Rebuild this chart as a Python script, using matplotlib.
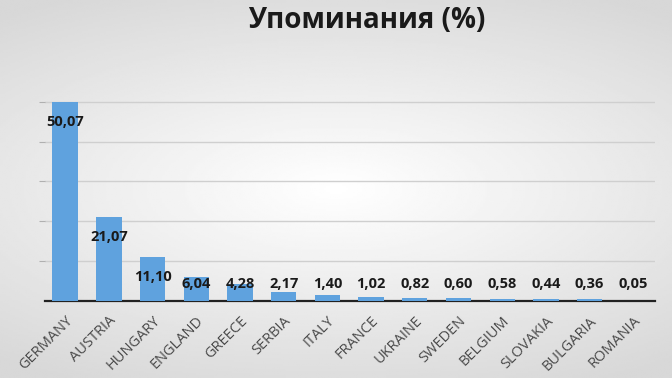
import numpy as np
import matplotlib.pyplot as plt

# data
countries = ["GERMANY", "AUSTRIA", "HUNGARY", "ENGLAND", "GREECE", "SERBIA", "ITALY",
             "FRANCE", "UKRAINE", "SWEDEN", "BELGIUM", "SLOVAKIA", "BULGARIA", "ROMANIA"]
shares = [50.07, 21.07, 11.10, 6.04, 4.28, 2.17, 1.40, 1.02, 0.82, 0.60, 0.58, 0.44, 0.36, 0.05]
title = "Упоминания (%)"

plt.rcParams['font.family'] = ['Open Sans', 'DejaVu Sans']

fig = plt.figure(figsize=(6.72, 3.78), dpi=100)

# soft grey vignette behind everything
bg = fig.add_axes([0, 0, 1, 1], zorder=-10)
yy, xx = np.mgrid[-1:1:200j, -1:1:300j]
shade = 1 - 0.12 * np.clip(np.sqrt((xx * 0.8) ** 2 + (yy * 1.1) ** 2), 0, 1.3)
bg.imshow(shade, cmap='gray', vmin=0, vmax=1, aspect='auto', extent=[0, 1, 0, 1])
bg.axis('off')

ax = fig.add_axes([0.067, 0.204, 0.908, 0.537])
ax.patch.set_alpha(0)
x = np.arange(len(countries))
ax.bar(x, shares, width=0.58, color='#5fa2de', zorder=3)

# value labels: inside near the top, but not below a minimum height
for xi, v in zip(x, shares):
    ypos = max(v - 5.1, 4.2)
    ax.text(xi, ypos, f"{v:.2f}".replace('.', ','), ha='center', va='center',
            fontsize=10.5, fontweight='bold', color='#1a1a1a', zorder=4)

ax.set_xlim(-0.46, 13.5)
ax.set_ylim(0, 51)
ax.set_yticks([10, 20, 30, 40, 50])
ax.set_yticklabels([])
ax.tick_params(axis='y', length=4, color='#b0b0b0')
ax.tick_params(axis='x', length=0, pad=9)
ax.grid(axis='y', color='#cfcfcf', linewidth=1, zorder=0)
for s in ['top', 'right', 'left']:
    ax.spines[s].set_visible(False)
ax.spines['bottom'].set_color('#222222')
ax.spines['bottom'].set_linewidth(1.6)

ax.set_xticks(x)
ax.set_xticklabels(countries, rotation=45, ha='right', rotation_mode='anchor',
                   fontsize=10.5, color='#4a4a4a')

fig.text(0.545, 0.945, title, ha='center', va='center', fontsize=20,
         fontweight='bold', color='#1a1a1a')

fig.savefig("out.png", dpi=100)
